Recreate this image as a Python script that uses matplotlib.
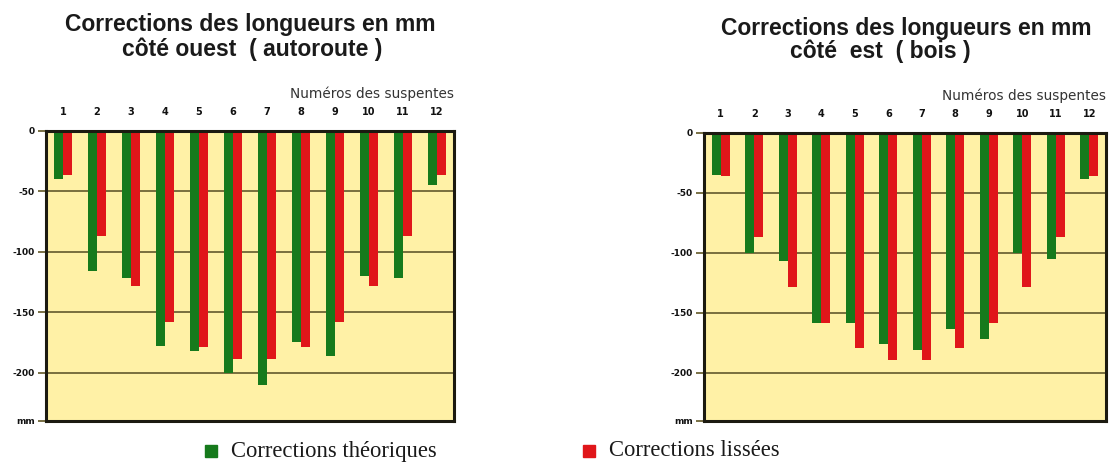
import matplotlib
matplotlib.use("Agg")
import matplotlib.pyplot as plt
from matplotlib.patches import Rectangle
import numpy as np

# Hanger numbers and length corrections (mm)
suspentes = list(range(1, 13))
ouest_theoriques = [-40, -116, -122, -178, -182, -200, -210, -175, -186, -120, -122, -45]
ouest_lissees = [-36, -87, -128, -158, -179, -189, -189, -179, -158, -128, -87, -36]
est_theoriques = [-35, -100, -107, -158, -158, -176, -181, -163, -172, -100, -105, -38]
est_lissees = [-36, -87, -128, -158, -179, -189, -189, -179, -158, -128, -87, -36]

y_ticks = [0, -50, -100, -150, -200, -240]
y_labels = ["0", "-50", "-100", "-150", "-200", "mm"]

titre_1 = "Corrections des longueurs en mm"
titre_ouest = "côté ouest  ( autoroute )"
titre_est = "côté  est  ( bois )"
axe_x = "Numéros des suspentes"
legende = ["Corrections théoriques", "Corrections lissées"]

VERT = "#167a1c"
ROUGE = "#e0161a"
FOND = "#fff1a6"
CADRE = "#1c1a10"
GRILLE = "#6e6536"

fig = plt.figure(figsize=(11.09, 4.62), dpi=100)
W, H = 1109, 462


def fx(px):
    return px / W


def fy(py):
    return 1 - py / H


def panneau(rect, theo, lisse):
    ax = fig.add_axes(rect)
    ax.set_facecolor(FOND)
    x = np.array(suspentes)
    bw = 0.27
    ax.bar(x - bw / 2, theo, width=bw, color=VERT, zorder=3)
    ax.bar(x + bw / 2, lisse, width=bw, color=ROUGE, zorder=3)
    ax.set_xlim(0.5, 12.5)
    ax.set_ylim(-240, 0)
    for v in y_ticks[1:-1]:
        ax.axhline(v, color=GRILLE, lw=1.3, zorder=1)
    ax.xaxis.tick_top()
    ax.set_xticks(suspentes)
    ax.set_xticklabels([str(s) for s in suspentes], fontsize=7,
                       fontweight="bold", color="#111111")
    ax.tick_params(axis="x", length=0, pad=10)
    ax.set_yticks(y_ticks)
    ax.set_yticklabels(y_labels, fontsize=6.5, fontweight="bold", color="#111111")
    ax.tick_params(axis="y", length=6, width=1.3, color=GRILLE, pad=2)
    for sp in ax.spines.values():
        sp.set_color(CADRE)
        sp.set_linewidth(2.2)
        sp.set_zorder(5)
    # Axis title above the hanger numbers, flush with the right edge
    ax.text(1.0, 1.105, axe_x, transform=ax.transAxes, ha="right", va="bottom",
            fontsize=9.8, color="#333333", family="DejaVu Sans")
    return ax


panneau([fx(46), fy(421), fx(454) - fx(46), fy(131) - fy(421)],
        ouest_theoriques, ouest_lissees)
panneau([fx(704), fy(421), fx(1106) - fx(704), fy(133) - fy(421)],
        est_theoriques, est_lissees)

tkw = dict(fontsize=16.5, fontweight="bold", family="Liberation Sans",
           color="#1a1a1a", ha="center", va="center")
fig.text(fx(250), fy(25), titre_1, **tkw)
fig.text(fx(252), fy(49), titre_ouest, **tkw)
fig.text(fx(906), fy(28), titre_1, **tkw)
fig.text(fx(880), fy(51), titre_est, **tkw)

# Legend: coloured squares with serif captions
for (x0, col, lab) in [(205, VERT, legende[0]), (583, ROUGE, legende[1])]:
    fig.add_artist(Rectangle((fx(x0), fy(457)), fx(12), 12 / H,
                             transform=fig.transFigure, color=col))
    fig.text(fx(x0 + 26), fy(451), lab, fontsize=16.3, family="Liberation Serif",
             color="#1a1a1a", ha="left", va="center")

fig.savefig("out.png", dpi=100, facecolor="white")
